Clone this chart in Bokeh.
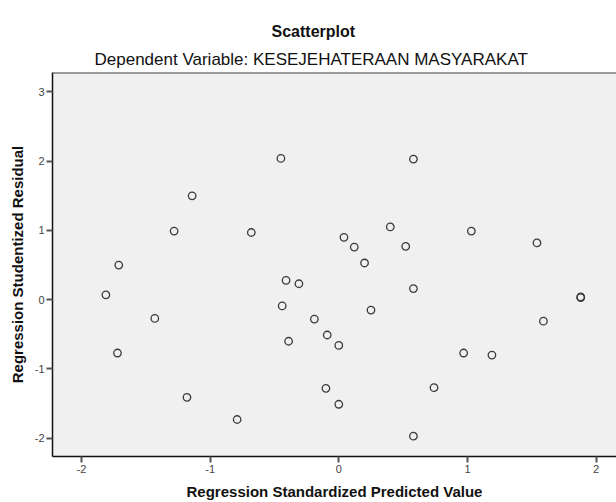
from bokeh.plotting import figure
from bokeh.models import Title, Range1d, FixedTicker, ColumnDataSource, Span
from bokeh.embed import file_html
from bokeh.resources import INLINE

# Data
pred_value = [-1.81, -1.71, -1.72, -1.43, -1.28, -1.14, -1.18, -0.79, -0.68, -0.45,
              -0.41, -0.44, -0.39, -0.31, -0.19, -0.09, -0.10, 0.00, 0.00, 0.04,
              0.12, 0.20, 0.25, 0.40, 0.52, 0.58, 0.58, 0.58, 0.74, 0.97,
              1.03, 1.19, 1.54, 1.59, 1.88, 1.88]
stud_resid = [0.07, 0.50, -0.77, -0.27, 0.99, 1.50, -1.41, -1.73, 0.97, 2.04,
              0.28, -0.09, -0.60, 0.23, -0.28, -0.51, -1.28, -0.66, -1.51, 0.90,
              0.76, 0.53, -0.15, 1.05, 0.77, 2.03, 0.16, -1.97, -1.27, -0.77,
              0.99, -0.80, 0.82, -0.31, 0.03, 0.04]
x_ticks = [-2, -1, 0, 1, 2]
y_ticks = [-2, -1, 0, 1, 2, 3]
x_tick_labels = ["-2", "-1", "0", "1", "2"]
y_tick_labels = ["-2", "-1", "0", "1", "2", "3"]

src = ColumnDataSource(dict(x=pred_value, y=stud_resid))

FONT = "Liberation Sans"
Y_TOP = 3.28

p = figure(width=616, height=502, output_backend="svg", toolbar_location=None,
           x_range=Range1d(-2.225, 2.158), y_range=Range1d(-2.264, Y_TOP),
           min_border_left=52, min_border_right=0, min_border_top=72, min_border_bottom=46,
           background_fill_color="#f0f0f0", border_fill_color="white")

p.add_layout(Title(text="Dependent Variable: KESEJEHATERAAN MASYARAKAT", align="left",
                   text_font=FONT, text_font_size="17px", text_font_style="normal",
                   text_color="#111111", offset=42, standoff=7), "above")
p.add_layout(Title(text="Scatterplot", align="left",
                   text_font=FONT, text_font_size="16px", text_font_style="bold",
                   text_color="#111111", offset=219, standoff=9), "above")

p.scatter("x", "y", source=src, marker="circle", size=7.5, fill_color=None,
          line_color="#3a3a3a", line_width=1.3)

p.grid.visible = False
p.outline_line_color = None
p.add_layout(Span(location=Y_TOP, dimension="width", line_color="#444444", line_width=2))

for ax in (p.xaxis[0], p.yaxis[0]):
    ax.major_label_text_font = FONT
    ax.major_label_text_font_size = "11px"
    ax.major_label_text_color = "#444444"
    ax.axis_label_text_font = FONT
    ax.axis_label_text_font_size = "15px"
    ax.axis_label_text_font_style = "bold"
    ax.axis_label_text_color = "#111111"
    ax.axis_line_color = "#111111"
    ax.axis_line_width = 1.5
    ax.major_tick_line_color = "#555555"
    ax.major_tick_line_width = 2
    ax.major_tick_in = 0
    ax.major_tick_out = 6
    ax.minor_tick_line_color = None
    ax.major_label_standoff = 2

p.xaxis[0].ticker = FixedTicker(ticks=x_ticks)
p.yaxis[0].ticker = FixedTicker(ticks=y_ticks)
p.xaxis[0].major_label_overrides = {t: s for t, s in zip(x_ticks, x_tick_labels)}
p.yaxis[0].major_label_overrides = {t: s for t, s in zip(y_ticks, y_tick_labels)}
p.xaxis[0].axis_label = "Regression Standardized Predicted Value"
p.yaxis[0].axis_label = "Regression Studentized Residual"
p.xaxis[0].axis_label_standoff = 7
p.yaxis[0].axis_label_standoff = 6

open("out.html", "w").write(file_html(p, INLINE))
